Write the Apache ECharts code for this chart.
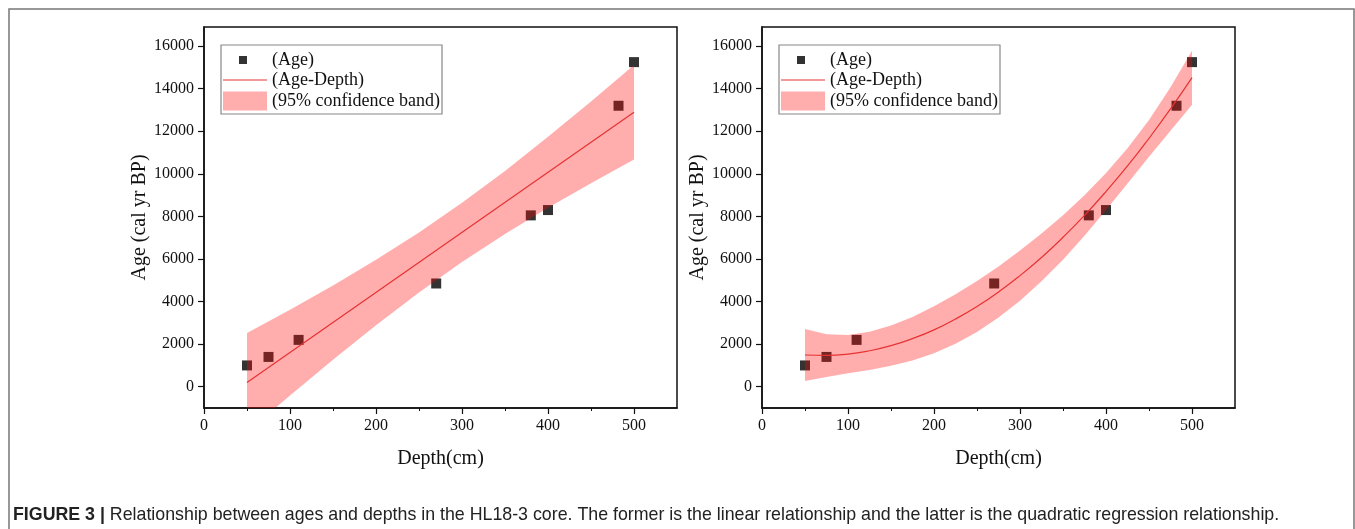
<!DOCTYPE html>
<html>
<head>
<meta charset="utf-8">
<script src="https://cdn.jsdelivr.net/npm/echarts@6/dist/echarts.min.js"></script>
<style>
html, body { margin: 0; padding: 0; background: #fff; }
#main { width: 1355px; height: 529px; }
</style>
</head>
<body>
<div id="main"></div>
<script>
// measured samples
const depth = [50, 75, 110, 270, 380, 400, 482, 500];
const age = [1000, 1400, 2200, 4850, 8050, 8300, 13200, 15250];

// linear fit line + 95% band
const linFitDepth = [50, 500];
const linFitAge = [200, 12890];
const linBandDepth = [50, 100, 150, 200, 250, 300, 350, 400, 450, 500];
const linUpper = [2520, 3620, 4760, 5960, 7250, 8640, 10140, 11740, 13400, 15110];
const linLower = [-2130, -410, 1270, 2890, 4430, 5860, 7180, 8410, 9560, 10680];

// quadratic fit curve + 95% band
const quadDepth = [50, 75, 100, 125, 150, 175, 200, 225, 250, 275, 300, 325, 350, 375, 400, 425, 450, 475, 500];
const quadAge = [1490, 1470, 1530, 1690, 1930, 2260, 2670, 3180, 3770, 4450, 5220, 6070, 7020, 8050, 9170, 10370, 11670, 13050, 14520];
const quadUpper = [2710, 2470, 2430, 2580, 2880, 3280, 3780, 4340, 4970, 5650, 6400, 7200, 8060, 9000, 10040, 11200, 12530, 14070, 15790];
const quadLower = [270, 460, 630, 790, 980, 1230, 1570, 2020, 2570, 3250, 4040, 4950, 5970, 7090, 8300, 9550, 10800, 12030, 13250];

const xTicks = [0, 100, 200, 300, 400, 500];
const yTicks = [0, 2000, 4000, 6000, 8000, 10000, 12000, 14000, 16000];

const NAME_AGE = '(Age)';
const NAME_FIT = '(Age-Depth)';
const NAME_BAND = '(95% confidence band)';

window.addEventListener('load', function () {
    let chart = echarts.init(document.getElementById('main'));
    const ink = '#111';
    const serif = '"Liberation Serif", "Times New Roman", serif';
    const bandColor = 'rgba(255, 0, 0, 0.32)';
    const fitColor = '#e63232';
    const grids = [204, 762];

    function zip(xs, ys) {
        return xs.map(function (x, i) { return [x, ys[i]]; });
    }

    function xAxisFor(i) {
        return {
            type: 'value', gridIndex: i, min: 0, max: 550,
            name: 'Depth(cm)', nameLocation: 'middle', nameGap: 41,
            nameTextStyle: { fontFamily: serif, fontSize: 20, color: ink },
            axisLine: { show: true, onZero: false, lineStyle: { color: ink, width: 1.5 } },
            axisTick: { show: true, length: 6, customValues: xTicks, lineStyle: { color: ink, width: 1.2 } },
            minorTick: { show: true, splitNumber: 2, length: 3, lineStyle: { color: ink, width: 1 } },
            axisLabel: { customValues: xTicks, margin: 10, fontFamily: serif, fontSize: 16, color: ink },
            splitLine: { show: false }
        };
    }

    function yAxisFor(i) {
        return {
            type: 'value', gridIndex: i, min: -1000, max: 16900,
            name: 'Age (cal yr BP)', nameLocation: 'middle', nameGap: 49,
            nameTextStyle: { fontFamily: serif, fontSize: 20, color: ink },
            axisLine: { show: true, onZero: false, lineStyle: { color: ink, width: 1.5 } },
            axisTick: { show: true, length: 6, customValues: yTicks, lineStyle: { color: ink, width: 1.2 } },
            axisLabel: {
                customValues: yTicks, margin: 10, fontFamily: serif, fontSize: 16, color: ink,
                formatter: function (v) { return String(v); }
            },
            splitLine: { show: false }
        };
    }

    // band as one polygon: upper edge left->right, lower edge back
    function bandSeries(i, xs, lo, hi) {
        return {
            name: NAME_BAND, type: 'custom', xAxisIndex: i, yAxisIndex: i, z: 3,
            clip: true, silent: true,
            itemStyle: { color: bandColor },
            data: xs.map(function (x, k) { return [x, lo[k], hi[k]]; }),
            encode: { x: 0, y: [1, 2] },
            renderItem: function (params, api) {
                if (params.dataIndex !== 0) return null;
                let top = xs.map(function (x, k) { return api.coord([x, hi[k]]); });
                let bot = xs.map(function (x, k) { return api.coord([x, lo[k]]); }).reverse();
                return {
                    type: 'polygon',
                    shape: { points: top.concat(bot) },
                    style: { fill: bandColor, stroke: null }
                };
            }
        };
    }

    function pointSeries(i) {
        return {
            name: NAME_AGE, type: 'scatter', xAxisIndex: i, yAxisIndex: i, z: 2,
            data: zip(depth, age), symbol: 'rect', symbolSize: 10,
            itemStyle: { color: '#000' }
        };
    }

    function fitSeries(i, xs, ys, smooth) {
        return {
            name: NAME_FIT, type: 'line', xAxisIndex: i, yAxisIndex: i, z: 4,
            data: zip(xs, ys), smooth: smooth, symbol: 'none',
            itemStyle: { color: fitColor },
            lineStyle: { color: fitColor, width: 1.2 }
        };
    }

    // one legend per row so each icon gets its own size
    let legends = [];
    grids.forEach(function (gx) {
        let lx = gx + 19;
        let txt = { fontFamily: serif, fontSize: 18, color: ink };
        legends.push({
            orient: 'vertical', left: lx + 16, top: 51, padding: 0,
            itemWidth: 8, itemHeight: 8,
            textStyle: Object.assign({ padding: [0, 0, 0, 20] }, txt),
            data: [{ name: NAME_AGE, icon: 'rect' }]
        });
        legends.push({
            orient: 'vertical', left: lx, top: 71, padding: 0,
            itemWidth: 44, itemHeight: 1.2, symbolKeepAspect: false,
            textStyle: txt,
            data: [{ name: NAME_FIT, icon: 'rect' }]
        });
        legends.push({
            orient: 'vertical', left: lx, top: 91.5, padding: 0,
            itemWidth: 44, itemHeight: 19,
            textStyle: txt,
            data: [{ name: NAME_BAND, icon: 'rect' }]
        });
    });

    let captionFont = '"Liberation Sans", Arial, sans-serif';
    let graphics = [{
        type: 'rect', shape: { x: 9, y: 9, width: 1345, height: 540 },
        style: { fill: 'none', stroke: '#777', lineWidth: 1.5 }, silent: true
    }, {
        type: 'text', left: 13, top: 506,
        style: {
            text: '{b|FIGURE 3 |} Relationship between ages and depths in the HL18-3 core. The former is the linear relationship and the latter is the quadratic regression relationship.',
            font: '17.8px ' + captionFont,
            fill: '#222',
            rich: { b: { fontWeight: 'bold', fontSize: 17.8, fontFamily: captionFont, fill: '#222' } }
        }
    }];
    grids.forEach(function (gx) {
        graphics.push({
            type: 'rect', shape: { x: gx + 17, y: 45, width: 221, height: 69 },
            style: { fill: 'none', stroke: '#888', lineWidth: 1.2 }, silent: true, z: 10
        });
    });

    let option = {
        animation: false,
        grid: grids.map(function (gx) {
            return { left: gx, top: 27, width: 473, height: 381, show: true, borderColor: ink, borderWidth: 1.5 };
        }),
        xAxis: [xAxisFor(0), xAxisFor(1)],
        yAxis: [yAxisFor(0), yAxisFor(1)],
        legend: legends,
        graphic: graphics,
        series: [].concat(
            pointSeries(0),
            bandSeries(0, linBandDepth, linLower, linUpper),
            fitSeries(0, linFitDepth, linFitAge, false),
            pointSeries(1),
            bandSeries(1, quadDepth, quadLower, quadUpper),
            fitSeries(1, quadDepth, quadAge, true)
        )
    };

    chart.setOption(option);
}, false);
</script>
</body>
</html>
